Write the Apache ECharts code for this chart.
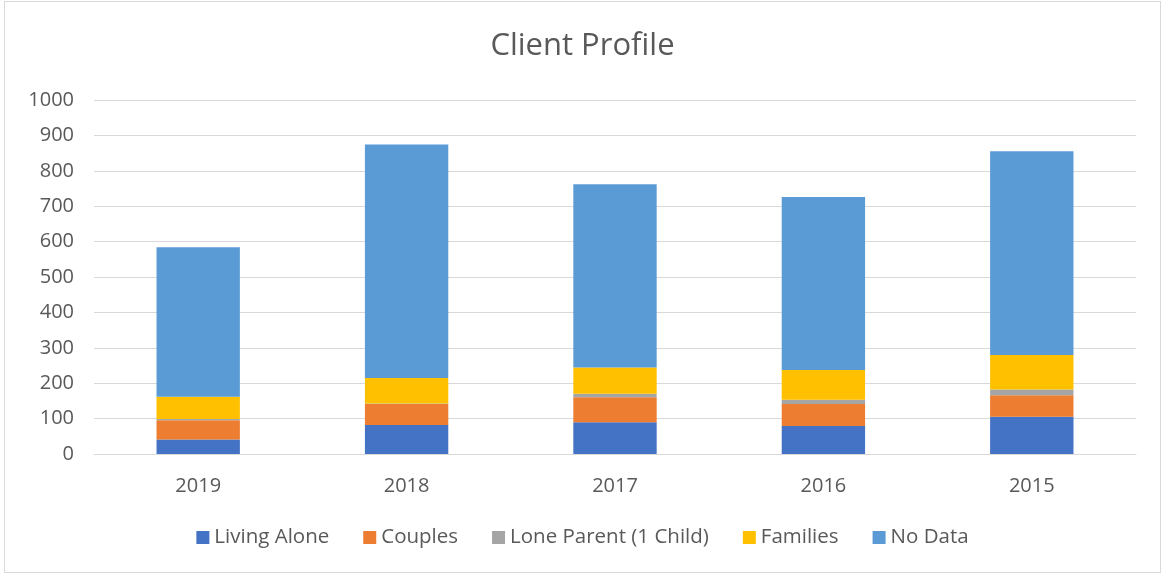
<!DOCTYPE html>
<html>
<head>
<meta charset="utf-8">
<style>
  html, body { margin: 0; padding: 0; background: #fff; }
  #chart { position: absolute; left: 4px; top: 1px; width: 1157px; height: 572px; border: 1px solid #d9d9d9; box-sizing: border-box; }
</style>
<script src="https://cdn.jsdelivr.net/npm/echarts@6/dist/echarts.min.js"></script>
</head>
<body>
<div id="chart"></div>
<script>
// Client counts by household type per year
const years = ['2019', '2018', '2017', '2016', '2015'];
const livingAlone = [41, 82, 90, 79, 105];
const couples = [54, 59, 70, 62, 61];
const loneParent = [4, 2, 10, 12, 16];
const families = [63, 72, 74, 84, 98];
const noData = [422, 659, 518, 489, 575];
const yTicks = { min: 0, max: 1000, interval: 100 };

const seriesDefs = [
  { name: 'Living Alone', data: livingAlone, color: '#4472C4' },
  { name: 'Couples', data: couples, color: '#ED7D31' },
  { name: 'Lone Parent (1 Child)', data: loneParent, color: '#A5A5A5' },
  { name: 'Families', data: families, color: '#FFC000' },
  { name: 'No Data', data: noData, color: '#5B9BD5' }
];

const font = '"Open Sans", "DejaVu Sans", sans-serif';
const chart = echarts.init(document.getElementById('chart'));
chart.setOption({
  animation: false,
  title: {
    text: 'Client Profile',
    left: 'center',
    top: 24,
    textStyle: { fontFamily: font, fontSize: 31, fontWeight: 'normal', color: '#595959' }
  },
  legend: {
    bottom: 19,
    left: 'center',
    itemWidth: 13,
    itemHeight: 13,
    itemGap: 34,
    icon: 'rect',
    textStyle: { fontFamily: font, fontSize: 20.5, color: '#595959' },
    data: seriesDefs.map(s => s.name)
  },
  grid: { left: 89, right: 24, top: 98, bottom: 118 },
  xAxis: {
    type: 'category',
    data: years,
    axisLine: { lineStyle: { color: '#d9d9d9', width: 1 } },
    axisTick: { show: false },
    axisLabel: { fontFamily: font, fontSize: 20, color: '#595959', margin: 22 }
  },
  yAxis: {
    type: 'value',
    min: yTicks.min,
    max: yTicks.max,
    interval: yTicks.interval,
    axisLine: { show: false },
    axisTick: { show: false },
    splitLine: { lineStyle: { color: '#d9d9d9', width: 1 } },
    axisLabel: { fontFamily: font, fontSize: 20, color: '#595959', margin: 20, formatter: v => String(v) }
  },
  series: seriesDefs.map(s => ({
    name: s.name,
    type: 'bar',
    stack: 'total',
    barWidth: '40%',
    data: s.data,
    itemStyle: { color: s.color }
  }))
});
</script>
</body>
</html>
